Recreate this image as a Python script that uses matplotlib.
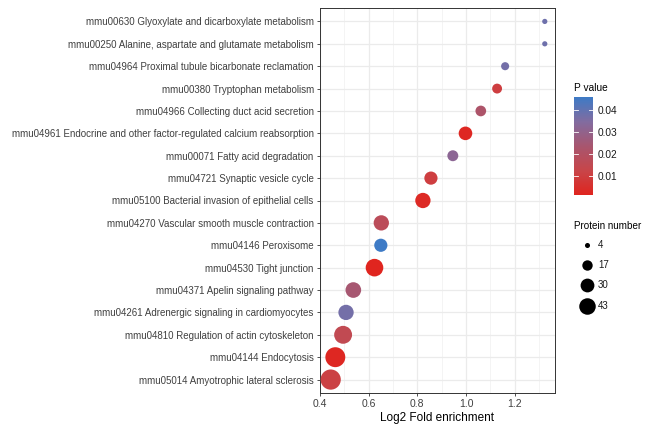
import numpy as np
import matplotlib
matplotlib.use("Agg")
import matplotlib.pyplot as plt
from matplotlib.colors import LinearSegmentedColormap, Normalize
from matplotlib.lines import Line2D

plt.rcParams['font.family'] = ['Liberation Sans', 'DejaVu Sans']

pathways = [
    "mmu05014 Amyotrophic lateral sclerosis",
    "mmu04144 Endocytosis",
    "mmu04810 Regulation of actin cytoskeleton",
    "mmu04261 Adrenergic signaling in cardiomyocytes",
    "mmu04371 Apelin signaling pathway",
    "mmu04530 Tight junction",
    "mmu04146 Peroxisome",
    "mmu04270 Vascular smooth muscle contraction",
    "mmu05100 Bacterial invasion of epithelial cells",
    "mmu04721 Synaptic vesicle cycle",
    "mmu00071 Fatty acid degradation",
    "mmu04961 Endocrine and other factor-regulated calcium reabsorption",
    "mmu04966 Collecting duct acid secretion",
    "mmu00380 Tryptophan metabolism",
    "mmu04964 Proximal tubule bicarbonate reclamation",
    "mmu00250 Alanine, aspartate and glutamate metabolism",
    "mmu00630 Glyoxylate and dicarboxylate metabolism",
]
fold = [0.444, 0.463, 0.495, 0.507, 0.537, 0.624, 0.650, 0.652, 0.823, 0.856,
        0.946, 0.998, 1.061, 1.128, 1.161, 1.324, 1.324]
pvals = [0.011, 0.002, 0.015, 0.037, 0.024, 0.0013, 0.046, 0.017, 0.003, 0.010,
         0.032, 0.002, 0.022, 0.010, 0.037, 0.038, 0.038]
counts = [75, 73, 59, 43, 45, 57, 32, 43, 43, 32, 22, 34, 21, 18, 12, 5, 5]

size_breaks = [4, 17, 30, 43]
p_ticks = [0.01, 0.02, 0.03, 0.04]
p_tick_labels = ["0.01", "0.02", "0.03", "0.04"]

cmap = LinearSegmentedColormap.from_list(
    "pv", [(0.0, "#E0251F"), (0.25, "#C8464A"), (0.5, "#A8566F"),
           (0.75, "#826CA0"), (1.0, "#3E7BC6")])
norm = Normalize(vmin=min(pvals), vmax=max(pvals))

def area(n):
    return 2.82 * np.asarray(n, dtype=float)

fig = plt.figure(figsize=(6.49, 4.30), dpi=100)
ax = fig.add_axes([320/649, 1-393/430, (555-320)/649, (393-8)/430])

y = np.arange(len(pathways))
ax.scatter(fold, y, s=area(counts), c=pvals, cmap=cmap, norm=norm,
           edgecolors='none', zorder=3)

ax.set_xlim(0.400, 1.366)
ax.set_ylim(-0.6, len(pathways) - 0.4)
ax.set_xticks([0.4, 0.6, 0.8, 1.0, 1.2])
ax.set_xticks([0.5, 0.7, 0.9, 1.1, 1.3], minor=True)
ax.set_xticklabels(["0.4", "0.6", "0.8", "1.0", "1.2"])
ax.set_yticks(y)
ax.set_yticklabels(pathways)
ax.grid(True, which='major', color='#EBEBEB', linewidth=0.9, zorder=0)
ax.grid(True, which='minor', axis='x', color='#F2F2F2', linewidth=0.6, zorder=0)
ax.set_axisbelow(True)
for sp in ax.spines.values():
    sp.set_color('#333333')
    sp.set_linewidth(0.7)
ax.tick_params(axis='both', which='major', length=2.5, width=0.6, color='#333333',
               labelsize=7.0, labelcolor='#404040', pad=2)
ax.tick_params(axis='x', which='major', labelsize=7.5)
ax.tick_params(axis='x', which='minor', length=0)
ax.set_xlabel("Log2 Fold enrichment", fontsize=8.5, color='black', labelpad=2)

# Colorbar
cax = fig.add_axes([574/649, 1-195/430, 19/649, 98/430])
grad = np.linspace(norm.vmin, norm.vmax, 256).reshape(-1, 1)
cax.imshow(grad, aspect='auto', cmap=cmap, norm=norm, origin='lower',
           extent=[0, 1, norm.vmin, norm.vmax])
cax.set_xlim(0, 1)
cax.set_ylim(norm.vmin, norm.vmax)
cax.set_xticks([])
cax.yaxis.tick_right()
cax.set_yticks(p_ticks)
cax.set_yticklabels(p_tick_labels)
cax.tick_params(axis='y', length=0, labelsize=7.3, labelcolor='#1A1A1A', pad=3)
for sp in cax.spines.values():
    sp.set_visible(False)
for t in p_ticks:
    cax.plot([0, 0.2], [t, t], color='white', lw=0.6)
    cax.plot([0.8, 1.0], [t, t], color='white', lw=0.6)
fig.text(574/649, 1-88/430, "P value", fontsize=7.3, ha='left', va='center')

# Size legend
fig.text(574/649, 1-226/430, "Protein number", fontsize=7.1, ha='left', va='center')
leg_y = [245, 265, 285, 306]
for n, yy in zip(size_breaks, leg_y):
    d = np.sqrt(area(n)) * 1.08
    fig.add_artist(Line2D([586.5/649], [1-yy/430], marker='o', markersize=d,
                          markeredgewidth=0, color='black', linestyle='none',
                          transform=fig.transFigure))
    fig.text(598/649, 1-yy/430, str(n), fontsize=7.0, ha='left', va='center',
             color='#1A1A1A')

fig.savefig("out.png", dpi=100)
